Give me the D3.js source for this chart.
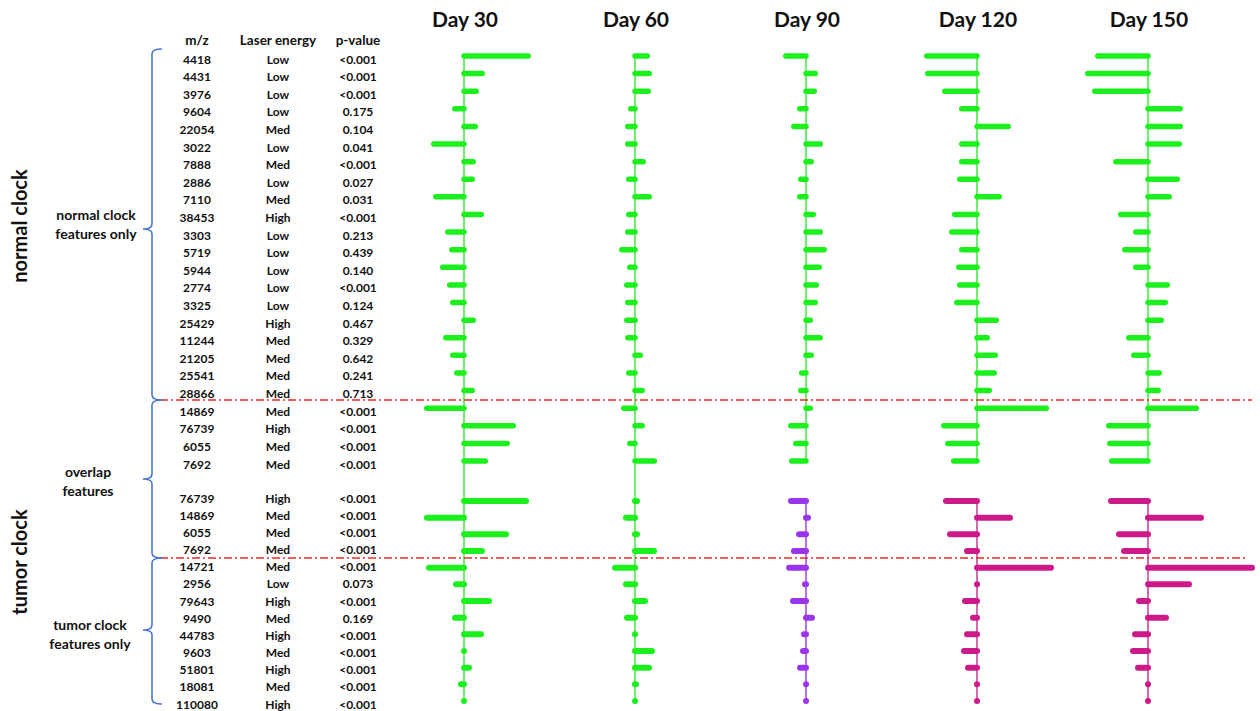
<!DOCTYPE html>
<html>
<head>
<meta charset="utf-8">
<script src="https://cdn.jsdelivr.net/npm/d3@7"></script>
<style>
  body { margin: 0; background: #fff; }
  svg { display: block; }
  text { font-family: Lato, "Open Sans", sans-serif; font-weight: 700; fill: #111; }
</style>
</head>
<body>
<svg id="svg" width="1260" height="711"></svg>
<script>
const days = ['Day 30', 'Day 60', 'Day 90', 'Day 120', 'Day 150'];

// rows above the gap: normal clock features (20) + overlap features (4)
const upperMz = ['4418','4431','3976','9604','22054','3022','7888','2886','7110','38453','3303','5719','5944','2774','3325','25429','11244','21205','25541','28866','14869','76739','6055','7692'];
const upperLaser = ['Low','Low','Low','Low','Med','Low','Med','Low','Med','High','Low','Low','Low','Low','Low','High','Med','Med','Med','Med','Med','High','Med','Med'];
const upperP = ['<0.001','<0.001','<0.001','0.175','0.104','0.041','<0.001','0.027','0.031','<0.001','0.213','0.439','0.140','<0.001','0.124','0.467','0.329','0.642','0.241','0.713','<0.001','<0.001','<0.001','<0.001'];

// tumor clock rows (overlap repeated + tumor-only)
const tumorMz = ['76739','14869','6055','7692','14721','2956','79643','9490','44783','9603','51801','18081','110080'];
const tumorLaser = ['High','Med','Med','Med','Med','Low','High','Med','High','Med','High','Med','High'];
const tumorP = ['<0.001','<0.001','<0.001','<0.001','<0.001','0.073','<0.001','0.169','<0.001','<0.001','<0.001','<0.001','<0.001'];

// signed bar values, one array per day
const upperDay30  = [0.67,0.21,0.15,-0.12,0.14,-0.33,0.12,0.11,-0.31,0.20,-0.19,-0.15,-0.24,-0.17,-0.14,0.12,-0.21,-0.14,-0.10,0.11,-0.40,0.52,0.46,0.24];
const upperDay60  = [0.15,0.17,0.16,-0.07,-0.10,-0.10,0.11,-0.09,0.17,-0.09,-0.10,-0.16,-0.08,-0.11,-0.10,-0.11,-0.10,0.08,-0.09,0.10,-0.14,0.10,-0.08,0.22];
const upperDay90  = [-0.23,0.12,0.11,-0.09,-0.15,0.17,0.08,-0.08,-0.09,0.10,0.17,0.21,0.16,0.13,0.12,0.07,0.17,0.08,-0.07,-0.08,0.07,-0.18,-0.13,-0.17];
const upperDay120 = [-0.53,-0.52,-0.35,-0.18,0.34,-0.18,-0.18,-0.20,0.25,-0.25,-0.28,-0.18,-0.21,-0.20,-0.23,0.22,0.13,0.21,0.20,0.15,0.72,-0.36,-0.32,-0.26];
const upperDay150 = [-0.53,-0.63,-0.56,0.35,0.35,0.34,-0.35,0.32,0.24,-0.30,-0.15,-0.26,-0.15,0.22,0.20,0.16,-0.22,-0.17,0.14,0.13,0.51,-0.42,-0.41,-0.39];

const tumorDay30  = [0.65,-0.40,0.45,0.21,-0.38,-0.11,0.28,-0.12,0.20,0.01,0.08,-0.06,0];
const tumorDay60  = [0.05,-0.12,0.05,0.22,-0.23,-0.12,0.13,-0.11,0.02,0.20,0.17,0.04,0];
const tumorDay90  = [-0.18,0.05,-0.10,-0.15,-0.20,-0.04,-0.16,0.09,-0.05,-0.06,-0.09,0,0];
const tumorDay120 = [-0.34,0.36,-0.30,-0.13,0.77,0.03,-0.15,-0.07,-0.13,-0.16,-0.12,0.01,0];
const tumorDay150 = [-0.40,0.56,-0.32,-0.27,1.07,0.44,-0.12,0.21,-0.16,-0.18,-0.13,0,0];

const upperVals = [upperDay30, upperDay60, upperDay90, upperDay120, upperDay150];
const tumorVals = [tumorDay30, tumorDay60, tumorDay90, tumorDay120, tumorDay150];

const green = '#1cf01c', lineGreen = '#5eee5e';
const tumorColors = [green, green, '#9a35ee', '#cc1a8a', '#cc1a8a'];
const tumorLineColors = [lineGreen, lineGreen, '#ad62f2', '#d45aa2', '#d45aa2'];

const svg = d3.select('#svg');

const colX = d3.scalePoint().domain(days).range([464, 1148]);
const barX = d3.scaleLinear().domain([-1, 1]).range([-100, 100]);
const upperY = d3.scalePoint().domain(d3.range(upperMz.length)).range([56, 461]);
const tumorY = d3.scalePoint().domain(d3.range(tumorMz.length)).range([501, 701]);
const tumorTextY = d3.scalePoint().domain(d3.range(tumorMz.length)).range([498, 704]);

// day titles
svg.selectAll('.day').data(days).enter().append('text')
  .attr('x', d => colX(d) + 1).attr('y', 27)
  .attr('text-anchor', 'middle').attr('font-size', 21).text(d => d);

// table headers
const cols = [197, 278, 358];
svg.selectAll('.hdr').data(['m/z', 'Laser energy', 'p-value']).enter().append('text')
  .attr('x', (d, i) => cols[i]).attr('y', 45)
  .attr('text-anchor', 'middle').attr('font-size', 13.5).text(d => d);

function table(mz, laser, p, yScale, dy) {
  [mz, laser, p].forEach((arr, c) => {
    svg.append('g').selectAll('text').data(arr).enter().append('text')
      .attr('x', cols[c]).attr('y', (d, i) => yScale(i) + dy)
      .attr('dominant-baseline', 'central')
      .attr('text-anchor', 'middle').attr('font-size', 12).text(d => d);
  });
}
table(upperMz, upperLaser, upperP, upperY, 3);
table(tumorMz, tumorLaser, tumorP, tumorTextY, 0);

// vertical centre lines
days.forEach((day, d) => {
  const cx = colX(day);
  const sameColor = tumorColors[d] === green;
  svg.append('line').attr('x1', cx).attr('x2', cx)
    .attr('y1', upperY(0)).attr('y2', sameColor ? tumorY(tumorMz.length - 1) : upperY(upperMz.length - 1))
    .attr('stroke', lineGreen).attr('stroke-width', 1.8);
  if (!sameColor) {
    svg.append('line').attr('x1', cx).attr('x2', cx)
      .attr('y1', tumorY(0)).attr('y2', tumorY(tumorMz.length - 1))
      .attr('stroke', tumorLineColors[d]).attr('stroke-width', 1.8);
  }
});

// bars (round caps; the cap is included in the read value)
function bars(vals, yScale, color, width, d) {
  const cx = colX(days[d]);
  const cap = width / 2;
  svg.append('g').selectAll('line').data(vals).enter().append('line')
    .attr('x1', cx)
    .attr('x2', v => {
      const len = Math.max(Math.abs(barX(v) - barX(0)) - cap, 0.05);
      return cx + (v < 0 ? -len : len);
    })
    .attr('y1', (v, i) => yScale(i)).attr('y2', (v, i) => yScale(i))
    .attr('stroke', color).attr('stroke-width', width).attr('stroke-linecap', 'round');
}
upperVals.forEach((vals, d) => bars(vals, upperY, green, 5.5, d));
tumorVals.forEach((vals, d) => bars(vals, tumorY, tumorColors[d], 6, d));

// red dash-dot separators
[[400, 1252], [558, 1245]].forEach(([y, x2]) => {
  svg.append('line').attr('x1', 160).attr('x2', x2).attr('y1', y).attr('y2', y)
    .attr('stroke', '#f02828').attr('stroke-width', 1.5).attr('stroke-dasharray', '8,3,2,3');
});

// blue braces
function brace(top, mid, bottom) {
  const x = 152, r = 5;
  const p = d3.path();
  p.moveTo(x + 10, top);
  p.quadraticCurveTo(x, top, x, top + r);
  p.lineTo(x, mid - r);
  p.quadraticCurveTo(x, mid, x - 9, mid);
  p.quadraticCurveTo(x, mid, x, mid + r);
  p.lineTo(x, bottom - r);
  p.quadraticCurveTo(x, bottom, x + 10, bottom);
  svg.append('path').attr('d', p.toString()).attr('fill', 'none')
    .attr('stroke', '#4a78c8').attr('stroke-width', 1.6);
}
brace(49, 229, 400);
brace(400, 479, 558);
brace(558, 630, 704);

// group labels
const groupLabels = [
  { lines: ['normal clock', 'features only'], x: 96, y: 214 },
  { lines: ['overlap', 'features'], x: 88, y: 471 },
  { lines: ['tumor clock', 'features only'], x: 90, y: 624 }
];
groupLabels.forEach(g => {
  g.lines.forEach((t, i) => {
    svg.append('text').attr('x', g.x).attr('y', g.y + i * 19)
      .attr('dominant-baseline', 'central').attr('text-anchor', 'middle')
      .attr('font-size', 14).text(t);
  });
});

[['normal clock', 226], ['tumor clock', 562]].forEach(([t, y]) => {
  svg.append('text').attr('transform', `translate(27,${y}) rotate(-90)`)
    .attr('text-anchor', 'middle').attr('font-size', 20).text(t);
});
</script>
</body>
</html>
